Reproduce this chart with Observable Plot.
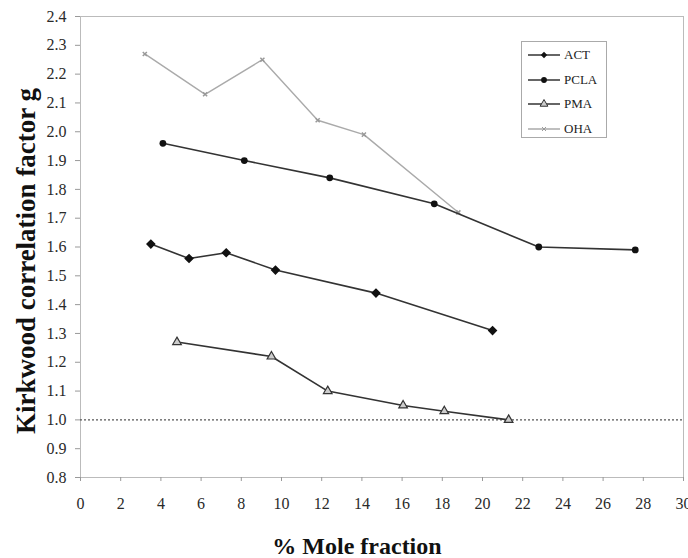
<!DOCTYPE html>
<html>
<head>
<meta charset="utf-8">
<script src="https://cdn.jsdelivr.net/npm/d3@7"></script>
<script src="https://cdn.jsdelivr.net/npm/@observablehq/plot@0.6"></script>
<style>
  html, body { margin: 0; padding: 0; background: #fff; }
  #wrap { position: relative; width: 688px; height: 558px; }
  #legend { position: absolute; left: 521px; top: 41px; width: 86px; height: 97px;
    border: 1px solid #aaa; background: #fff; box-sizing: border-box;
    font-family: "Liberation Serif", "Times New Roman", serif; font-size: 13px; color: #222; }
  .item { position: absolute; left: 5px; height: 14px; display: flex; align-items: center; }
  .item span { margin-left: 3px; }
</style>
</head>
<body>
<div id="wrap"><div id="chart"></div><div id="legend"></div></div>
<script>
const xTicks = [0,2,4,6,8,10,12,14,16,18,20,22,24,26,28,30];
const yTicks = [0.8,0.9,1.0,1.1,1.2,1.3,1.4,1.5,1.6,1.7,1.8,1.9,2.0,2.1,2.2,2.3,2.4];

const actX = [3.5, 5.4, 7.25, 9.7, 14.7, 20.5];
const actY = [1.61, 1.56, 1.58, 1.52, 1.44, 1.31];
const pclaX = [4.1, 8.15, 12.4, 17.6, 22.8, 27.6];
const pclaY = [1.96, 1.90, 1.84, 1.75, 1.60, 1.59];
const pmaX = [4.8, 9.5, 12.3, 16.05, 18.1, 21.3];
const pmaY = [1.27, 1.22, 1.10, 1.05, 1.03, 1.00];
const ohaX = [3.2, 6.2, 9.05, 11.8, 14.1, 18.8];
const ohaY = [2.27, 2.13, 2.25, 2.04, 1.99, 1.72];

const seriesNames = ["ACT", "PCLA", "PMA", "OHA"];

const toRows = (xs, ys, name) => xs.map((x, i) => ({x, y: ys[i], name}));
const act = toRows(actX, actY, "ACT");
const pcla = toRows(pclaX, pclaY, "PCLA");
const pma = toRows(pmaX, pmaY, "PMA");
const oha = toRows(ohaX, ohaY, "OHA");

const serif = '"Liberation Serif", "Times New Roman", serif';

const chart = Plot.plot({
  width: 688, height: 558,
  marginLeft: 80, marginRight: 5, marginTop: 16, marginBottom: 81,
  style: { fontFamily: serif, fontSize: "16px", color: "#2a2a2a", background: "#fff" },
  x: { domain: [0, 30], ticks: xTicks, tickFormat: d => String(d), label: null },
  y: { domain: [0.8, 2.4], ticks: yTicks, tickFormat: d => d.toFixed(1), label: null },
  marks: [
    Plot.frame({ stroke: "#bbb" }),
    Plot.axisX({ ticks: xTicks, tickFormat: d => String(d), tickSize: 4, tickPadding: 16, stroke: "#999", label: null,
      fill: "#2a2a2a" }),
    Plot.axisY({ ticks: yTicks, tickFormat: d => d.toFixed(1), tickSize: 5, tickPadding: 9, stroke: "#999", label: null,
      fill: "#2a2a2a" }),
    Plot.ruleY([1.0], { stroke: "#555", strokeDasharray: "2,2", strokeWidth: 1.3 }),
    Plot.line(oha, { x: "x", y: "y", stroke: "#aaa", strokeWidth: 1.4 }),
    Plot.dot(oha, { x: "x", y: "y", symbol: "times", r: 2, stroke: "#999" }),
    Plot.line(pcla, { x: "x", y: "y", stroke: "#333", strokeWidth: 1.6 }),
    Plot.dot(pcla, { x: "x", y: "y", symbol: "circle", r: 3.4, fill: "#111" }),
    Plot.line(act, { x: "x", y: "y", stroke: "#333", strokeWidth: 1.6 }),
    Plot.dot(act, { x: "x", y: "y", symbol: "diamond2", r: 3.4, fill: "#111", stroke: "#111" }),
    Plot.line(pma, { x: "x", y: "y", stroke: "#333", strokeWidth: 1.6 }),
    Plot.dot(pma, { x: "x", y: "y", symbol: "triangle", r: 3.2, fill: "#ccc", stroke: "#333", strokeWidth: 1.2 }),
    Plot.text(["Kirkwood correlation factor g"], { frameAnchor: "left", text: d => d, rotate: -90, dx: -54, dy: 14,
      textAnchor: "middle", lineAnchor: "middle",
      fontSize: 27, fontWeight: "bold", fill: "#111", fontFamily: serif }),
    Plot.text(["% Mole fraction"], { frameAnchor: "bottom", text: d => d, dy: 69, dx: -25,
      textAnchor: "middle", lineAnchor: "middle",
      fontSize: 24, fontWeight: "bold", fill: "#111", fontFamily: serif })
  ]
});
document.getElementById("chart").appendChild(chart);

// legend
const legend = d3.select("#legend");
const symbols = { ACT: d3.symbolDiamond2, PCLA: d3.symbolCircle, PMA: d3.symbolTriangle, OHA: d3.symbolTimes };
seriesNames.forEach((name, i) => {
  const item = legend.append("div").attr("class", "item").style("top", (6 + i * 24.5) + "px");
  const svg = item.append("svg").attr("width", 34).attr("height", 14);
  const col = name === "OHA" ? "#aaa" : "#333";
  svg.append("line").attr("x1", 1).attr("x2", 33).attr("y1", 7).attr("y2", 7).attr("stroke", col).attr("stroke-width", 1.5);
  const sym = d3.symbol(symbols[name], name === "OHA" ? 12 : 26)();
  const p = svg.append("path").attr("d", sym).attr("transform", "translate(17,7)");
  if (name === "PMA") p.attr("fill", "#ccc").attr("stroke", "#333");
  else if (name === "OHA") p.attr("fill", "none").attr("stroke", "#999");
  else p.attr("fill", "#111");
  item.append("span").text(name);
});
</script>
</body>
</html>
